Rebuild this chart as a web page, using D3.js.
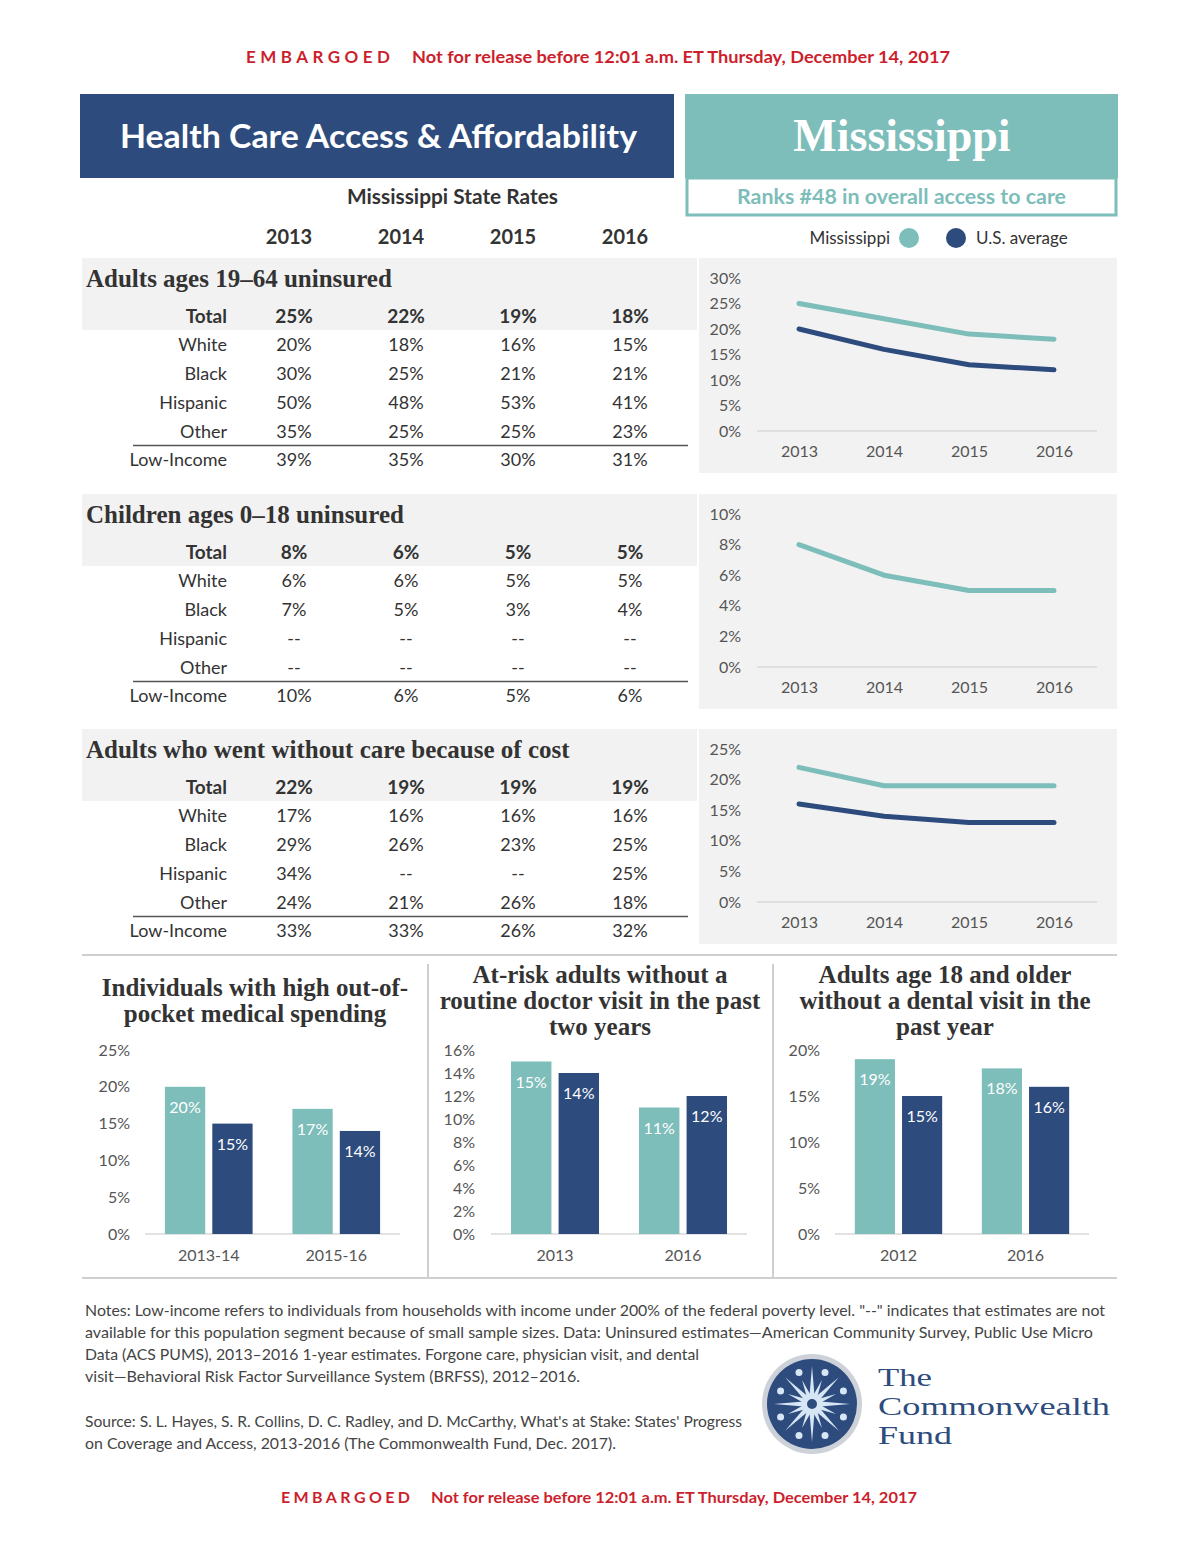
<!DOCTYPE html>
<html>
<head>
<meta charset="utf-8">
<script src="https://cdn.jsdelivr.net/npm/d3@7"></script>
<style>
  body { margin: 0; background: #fff; }
  text { font-family: Lato, "Open Sans", sans-serif; }
  .serif { font-family: "Liberation Serif", "DejaVu Serif", serif; }
  .axis text { fill: #555; font-size: 16px; font-family: Lato, sans-serif; }
  .axis .domain { display: none; }
</style>
</head>
<body>
<div id="page"></div>
<script>
// ---- data ----
var years = ["2013", "2014", "2015", "2016"];
var rowLabels = ["Total", "White", "Black", "Hispanic", "Other", "Low-Income"];

// table rows (null = "--")
var adultsUninsured = [
  [25, 22, 19, 18],
  [20, 18, 16, 15],
  [30, 25, 21, 21],
  [50, 48, 53, 41],
  [35, 25, 25, 23],
  [39, 35, 30, 31]
];
var childrenUninsured = [
  [8, 6, 5, 5],
  [6, 6, 5, 5],
  [7, 5, 3, 4],
  [null, null, null, null],
  [null, null, null, null],
  [10, 6, 5, 6]
];
var withoutCare = [
  [22, 19, 19, 19],
  [17, 16, 16, 16],
  [29, 26, 23, 25],
  [34, null, null, 25],
  [24, 21, 26, 18],
  [33, 33, 26, 32]
];

// U.S. average lines
var usAdultsUninsured = [20, 16, 13, 12];
var usWithoutCare = [16, 14, 13, 13];

var sectionTitles = [
  "Adults ages 19\u201364 uninsured",
  "Children ages 0\u201318 uninsured",
  "Adults who went without care because of cost"
];
var lineMax = [30, 10, 25];
var lineStep = [5, 2, 5];

// bar charts
var spendingCats = ["2013-14", "2015-16"];
var spendingMS = [20, 17];
var spendingUS = [15, 14];

var doctorCats = ["2013", "2016"];
var doctorMS = [15, 11];
var doctorUS = [14, 12];

var dentalCats = ["2012", "2016"];
var dentalMS = [19, 18];
var dentalUS = [15, 16];

var barTitles = [
  ["Individuals with high out-of-", "pocket medical spending"],
  ["At-risk adults without a", "routine doctor visit in the past", "two years"],
  ["Adults age 18 and older", "without a dental visit in the", "past year"]
];

var noteLines = [
  "Notes: Low-income refers to individuals from households with income under 200% of the federal poverty level. \"--\" indicates that estimates are not",
  "available for this population segment because of small sample sizes. Data: Uninsured estimates\u2014American Community Survey, Public Use Micro",
  "Data (ACS PUMS), 2013\u20132016 1-year estimates. Forgone care, physician visit, and dental",
  "visit\u2014Behavioral Risk Factor Surveillance System (BRFSS), 2012\u20132016."
];
var sourceLines = [
  "Source: S. L. Hayes, S. R. Collins, D. C. Radley, and D. McCarthy, What's at Stake: States' Progress",
  "on Coverage and Access, 2013-2016 (The Commonwealth Fund, Dec. 2017)."
];

// ---- page setup ----
var width = 1200, height = 1553;
var teal = "#7dbdba", navy = "#2d4b7d", ink = "#333", red = "#cc1f2d", panel = "#f2f2f2";

var svg = d3.select("#page").append("svg")
  .attr("width", width)
  .attr("height", height);

function pct(v) { return v == null ? "--" : v + "%"; }

// embargo banner (top and bottom)
function embargo(y, x1, w1, x2, w2, size) {
  svg.append("text").attr("x", x1).attr("y", y)
    .attr("textLength", w1).attr("lengthAdjust", "spacing")
    .style("font-size", size + "px").style("font-weight", 700).style("fill", red)
    .text("EMBARGOED");
  svg.append("text").attr("x", x2).attr("y", y)
    .attr("textLength", w2).attr("lengthAdjust", "spacingAndGlyphs")
    .style("font-size", size + "px").style("font-weight", 700).style("fill", red)
    .text("Not for release before 12:01 a.m. ET Thursday, December 14, 2017");
}
embargo(63, 246, 144, 412, 538, 17);
embargo(1503, 281, 129, 431, 486, 16);

// header boxes
svg.append("rect").attr("x", 80).attr("y", 94).attr("width", 594).attr("height", 84).attr("fill", navy);
svg.append("text").attr("x", 120).attr("y", 148)
  .attr("textLength", 517).attr("lengthAdjust", "spacingAndGlyphs")
  .style("font-size", "33px").style("font-weight", 700).style("fill", "#fff")
  .text("Health Care Access & Affordability");

svg.append("rect").attr("x", 685).attr("y", 94).attr("width", 433).attr("height", 84).attr("fill", teal);
svg.append("text").attr("class", "serif").attr("x", 902).attr("y", 151)
  .attr("text-anchor", "middle")
  .style("font-size", "46px").style("font-weight", 700).style("fill", "#fff")
  .text("Mississippi");
svg.append("rect").attr("x", 687).attr("y", 178).attr("width", 429).attr("height", 37)
  .attr("fill", "#fff").attr("stroke", teal).attr("stroke-width", 3);
svg.append("text").attr("x", 737).attr("y", 204)
  .attr("textLength", 329).attr("lengthAdjust", "spacingAndGlyphs")
  .style("font-size", "20px").style("font-weight", 700).style("fill", teal)
  .text("Ranks #48  in overall access to care");

svg.append("text").attr("x", 347).attr("y", 204)
  .attr("textLength", 211).attr("lengthAdjust", "spacingAndGlyphs")
  .style("font-size", "20px").style("font-weight", 700).style("fill", ink)
  .text("Mississippi State Rates");

// table columns
var colX = d3.scalePoint().domain(years).range([294, 630]);
svg.selectAll(".yearHead").data(years).enter().append("text")
  .attr("class", "yearHead")
  .attr("x", function(d) { return colX(d) - 5; })
  .attr("y", 244)
  .attr("text-anchor", "middle")
  .style("font-size", "20px").style("font-weight", 700).style("fill", ink)
  .text(function(d) { return d; });

// legend
svg.append("text").attr("x", 890).attr("y", 244).attr("text-anchor", "end")
  .style("font-size", "17px").style("fill", ink).text("Mississippi");
svg.append("circle").attr("cx", 909).attr("cy", 238).attr("r", 10).attr("fill", teal);
svg.append("circle").attr("cx", 956).attr("cy", 238).attr("r", 10).attr("fill", navy);
svg.append("text").attr("x", 976).attr("y", 244)
  .style("font-size", "17px").style("fill", ink).text("U.S. average");

// ---- three table + line chart sections ----
var sectionRows = [adultsUninsured, childrenUninsured, withoutCare];
var usLines = [usAdultsUninsured, null, usWithoutCare];
var sectionTops = [258, 494, 729];

sectionRows.forEach(function(rows, s) {
  var T = sectionTops[s];
  var g = svg.append("g");

  // gray band behind title + total row
  g.append("rect").attr("x", 82).attr("y", T).attr("width", 615).attr("height", 72).attr("fill", panel);
  g.append("text").attr("class", "serif").attr("x", 86).attr("y", T + 29)
    .style("font-size", "25px").style("font-weight", 700).style("fill", ink)
    .text(sectionTitles[s]);

  var rowY = d3.scaleLinear().domain([0, 5]).range([T + 58, T + 202]);

  g.selectAll(".rowLabel").data(rowLabels).enter().append("text")
    .attr("x", 227)
    .attr("y", function(d, i) { return rowY(i); })
    .attr("dy", "0.35em")
    .attr("text-anchor", "end")
    .style("font-size", function(d, i) { return i === 0 ? "19px" : "18px"; })
    .style("font-weight", function(d, i) { return i === 0 ? 700 : 400; })
    .style("fill", ink)
    .text(function(d) { return d; });

  rows.forEach(function(vals, r) {
    g.selectAll(".cell" + r).data(vals).enter().append("text")
      .attr("x", function(d, i) { return colX(years[i]); })
      .attr("y", rowY(r))
      .attr("dy", "0.35em")
      .attr("text-anchor", "middle")
      .style("font-size", r === 0 ? "19px" : "18px")
      .style("font-weight", r === 0 ? 700 : 400)
      .style("fill", ink)
      .text(function(d) { return pct(d); });
  });

  // rule above low-income
  g.append("line").attr("x1", 133).attr("x2", 688)
    .attr("y1", (rowY(4) + rowY(5)) / 2).attr("y2", (rowY(4) + rowY(5)) / 2)
    .attr("stroke", "#555").attr("stroke-width", 1.5);

  // line chart panel
  g.append("rect").attr("x", 699).attr("y", T).attr("width", 418).attr("height", 215).attr("fill", panel);

  var x = d3.scalePoint().domain(years).range([799, 1054]);
  var y = d3.scaleLinear().domain([0, lineMax[s]]).range([T + 173, T + 20]);

  g.append("line").attr("x1", 757).attr("x2", 1097)
    .attr("y1", y(0)).attr("y2", y(0))
    .attr("stroke", "#d9d9d9").attr("stroke-width", 1.5);

  g.append("g").attr("class", "axis")
    .attr("transform", "translate(745,0)")
    .call(d3.axisLeft(y).tickValues(d3.range(0, lineMax[s] + 0.1, lineStep[s]))
      .tickSize(0).tickPadding(4).tickFormat(function(d) { return d + "%"; }));

  g.append("g").attr("class", "axis")
    .attr("transform", "translate(0," + y(0) + ")")
    .call(d3.axisBottom(x).tickSize(0).tickPadding(15));

  var line = d3.line()
    .x(function(d, i) { return x(years[i]); })
    .y(function(d) { return y(d); });

  g.append("path").datum(rows[0])
    .attr("d", line).attr("fill", "none")
    .attr("stroke", teal).attr("stroke-width", 5)
    .attr("stroke-linecap", "round").attr("stroke-linejoin", "round");

  if (usLines[s]) {
    g.append("path").datum(usLines[s])
      .attr("d", line).attr("fill", "none")
      .attr("stroke", navy).attr("stroke-width", 5)
      .attr("stroke-linecap", "round").attr("stroke-linejoin", "round");
  }
});

// ---- bottom bar charts ----
svg.append("line").attr("x1", 82).attr("x2", 1117).attr("y1", 955).attr("y2", 955)
  .attr("stroke", "#cfcfcf").attr("stroke-width", 2);
svg.append("line").attr("x1", 82).attr("x2", 1117).attr("y1", 1278).attr("y2", 1278)
  .attr("stroke", "#cfcfcf").attr("stroke-width", 2);
[428, 773].forEach(function(vx) {
  svg.append("line").attr("x1", vx).attr("x2", vx).attr("y1", 964).attr("y2", 1277)
    .attr("stroke", "#cfcfcf").attr("stroke-width", 2);
});

var barCharts = [
  { cats: spendingCats, ms: spendingMS, us: spendingUS, max: 25, step: 5,
    x0: 145, x1: 400, labelX: 130, titleX: 255, titleY: 996 },
  { cats: doctorCats, ms: doctorMS, us: doctorUS, max: 16, step: 2,
    x0: 491, x1: 747, labelX: 475, titleX: 600, titleY: 983 },
  { cats: dentalCats, ms: dentalMS, us: dentalUS, max: 20, step: 5,
    x0: 835, x1: 1089, labelX: 820, titleX: 945, titleY: 983 }
];

barCharts.forEach(function(c, k) {
  var g = svg.append("g");

  g.selectAll(".title").data(barTitles[k]).enter().append("text")
    .attr("class", "serif")
    .attr("x", c.titleX)
    .attr("y", function(d, i) { return c.titleY + i * 26; })
    .attr("text-anchor", "middle")
    .style("font-size", "25px").style("font-weight", 700).style("fill", ink)
    .text(function(d) { return d; });

  var x = d3.scaleBand().domain(c.cats).range([c.x0, c.x1]);
  var sub = d3.scaleBand().domain(["ms", "us"]).range([0, x.bandwidth()])
    .paddingInner(0.15).paddingOuter(0.42);
  var y = d3.scaleLinear().domain([0, c.max]).range([1234, 1050]);

  g.append("line").attr("x1", c.x0).attr("x2", c.x1)
    .attr("y1", y(0)).attr("y2", y(0))
    .attr("stroke", "#d9d9d9").attr("stroke-width", 1.5);

  g.append("g").attr("class", "axis")
    .attr("transform", "translate(" + (c.labelX + 4) + ",0)")
    .call(d3.axisLeft(y).tickValues(d3.range(0, c.max + 0.1, c.step))
      .tickSize(0).tickPadding(4).tickFormat(function(d) { return d + "%"; }));

  g.append("g").attr("class", "axis")
    .attr("transform", "translate(0," + y(0) + ")")
    .call(d3.axisBottom(x).tickSize(0).tickPadding(16));

  var bars = [];
  c.cats.forEach(function(cat, i) {
    bars.push({ cat: cat, key: "ms", v: c.ms[i] });
    bars.push({ cat: cat, key: "us", v: c.us[i] });
  });

  g.selectAll(".bar").data(bars).enter().append("rect")
    .attr("x", function(d) { return x(d.cat) + sub(d.key); })
    .attr("y", function(d) { return y(d.v); })
    .attr("width", sub.bandwidth())
    .attr("height", function(d) { return y(0) - y(d.v); })
    .attr("fill", function(d) { return d.key === "ms" ? teal : navy; });

  g.selectAll(".barLabel").data(bars).enter().append("text")
    .attr("x", function(d) { return x(d.cat) + sub(d.key) + sub.bandwidth() / 2; })
    .attr("y", function(d) { return y(d.v) + 26; })
    .attr("text-anchor", "middle")
    .style("font-size", "16px").style("fill", "#fff")
    .text(function(d) { return d.v + "%"; });
});

// ---- notes and source ----
var noteFit = [1020, 1008, 614, 495];
svg.selectAll(".note").data(noteLines).enter().append("text")
  .attr("x", 85)
  .attr("y", function(d, i) { return 1316 + i * 22; })
  .attr("textLength", function(d, i) { return noteFit[i]; })
  .attr("lengthAdjust", "spacingAndGlyphs")
  .style("font-size", "15px").style("fill", "#444")
  .text(function(d) { return d; });

var sourceFit = [657, 531];
svg.selectAll(".source").data(sourceLines).enter().append("text")
  .attr("x", 85)
  .attr("y", function(d, i) { return 1427 + i * 22; })
  .attr("textLength", function(d, i) { return sourceFit[i]; })
  .attr("lengthAdjust", "spacingAndGlyphs")
  .style("font-size", "15px").style("fill", "#444")
  .text(function(d) { return d; });

// ---- Commonwealth Fund logo ----
var logo = svg.append("g").attr("transform", "translate(812,1404)");
logo.append("circle").attr("r", 50).attr("fill", "#cdd1d8");
logo.append("circle").attr("r", 45).attr("fill", navy);
d3.range(16).forEach(function(i) {
  var a = i * Math.PI / 8;
  var len = i % 2 === 0 ? 38 : 26;
  var w = 3.2;
  var px = Math.cos(a), py = Math.sin(a);
  logo.append("path")
    .attr("d", "M" + (-py * w) + "," + (px * w) +
      "L" + (px * len) + "," + (py * len) +
      "L" + (py * w) + "," + (-px * w) + "Z")
    .attr("fill", "#d6e6f5");
});
d3.range(8).forEach(function(i) {
  var a = i * Math.PI / 4 + Math.PI / 8;
  logo.append("circle")
    .attr("cx", Math.cos(a) * 34).attr("cy", Math.sin(a) * 34)
    .attr("r", 3.5).attr("fill", "#d6e6f5");
});
logo.append("circle").attr("r", 5).attr("fill", navy);

// logo wordmark, three lines
var logoWords = ["The", "Commonwealth", "Fund"];
var logoFit = [54, 232, 74];
svg.selectAll(".logoWord").data(logoWords).enter().append("text")
  .attr("class", "serif")
  .attr("x", 878)
  .attr("y", function(d, i) { return 1386 + i * 29; })
  .attr("textLength", function(d, i) { return logoFit[i]; })
  .attr("lengthAdjust", "spacingAndGlyphs")
  .style("font-size", "25px").style("fill", navy)
  .text(function(d) { return d; });
</script>
</body>
</html>
